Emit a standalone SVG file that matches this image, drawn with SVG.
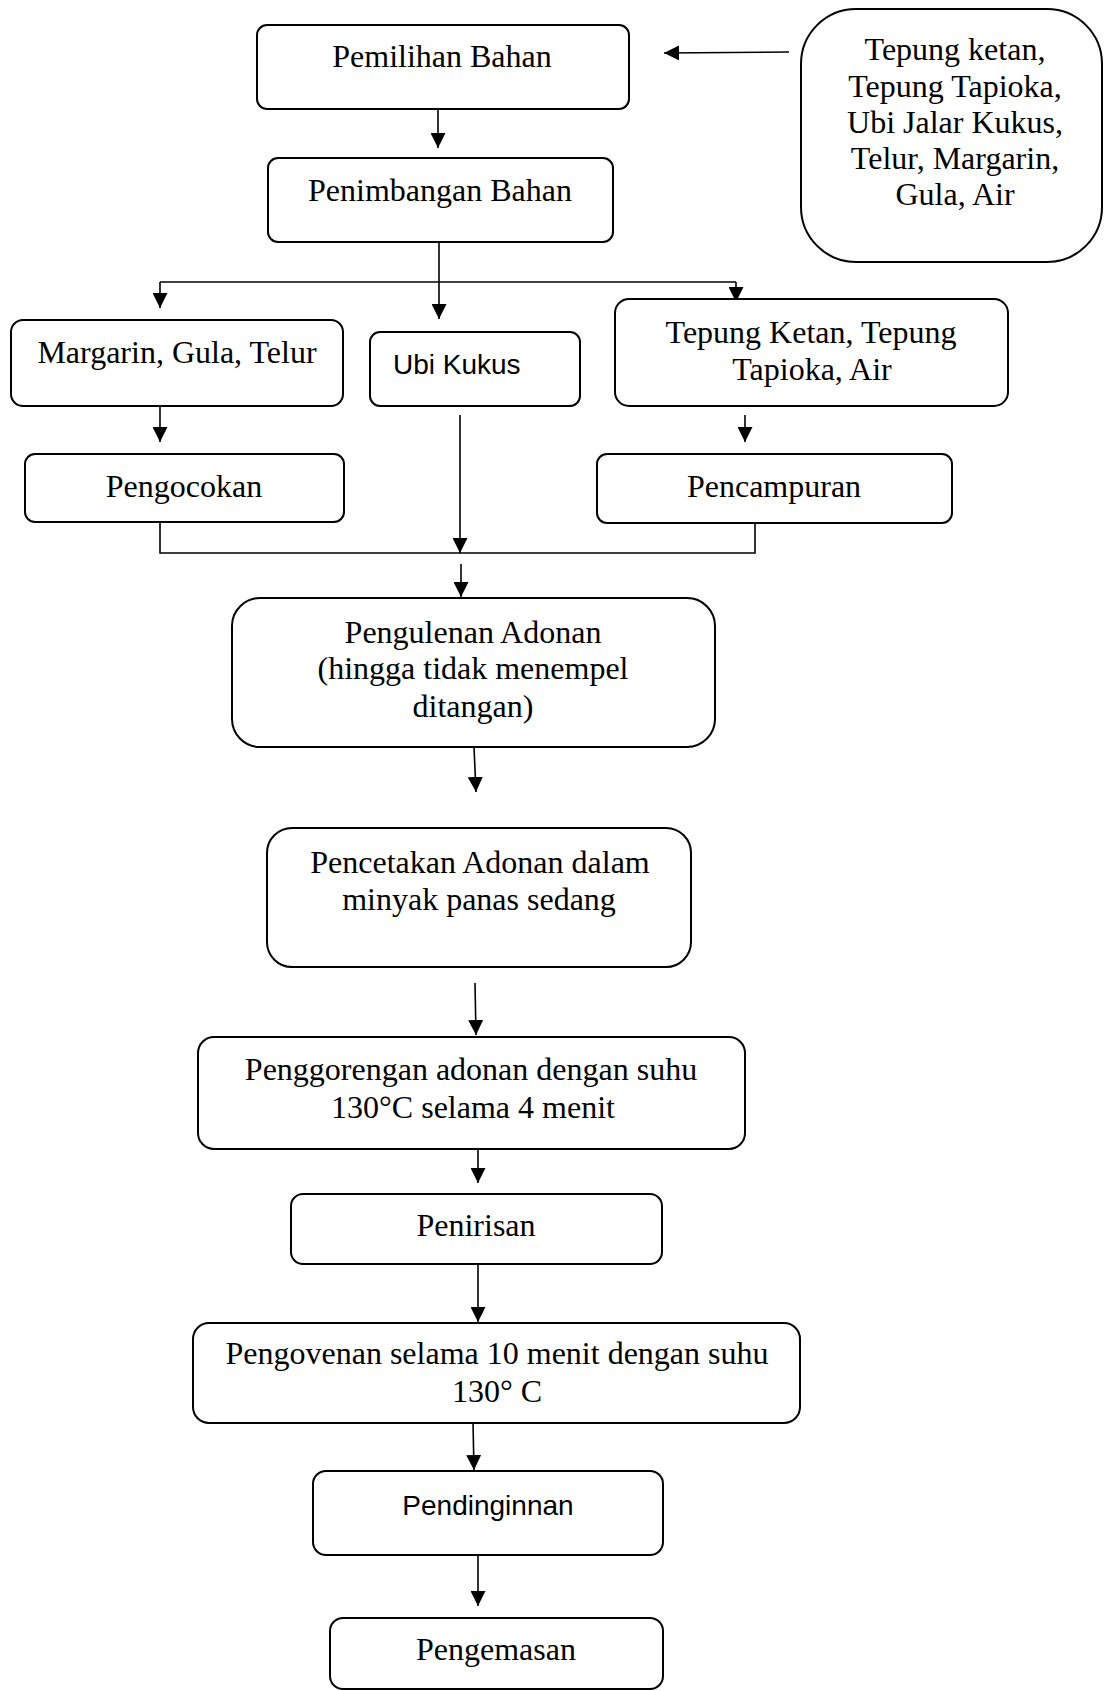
<svg xmlns="http://www.w3.org/2000/svg" width="1104" height="1691" viewBox="0 0 1104 1691">
<style>
.box{fill:#fff;stroke:#000;stroke-width:2}
.t{font-family:"Liberation Serif","Times New Roman",serif;font-size:32px;fill:#000;text-anchor:middle}
.s{font-family:"Liberation Sans",Arial,sans-serif;font-size:28px;fill:#000}
.c{fill:none;stroke:#000;stroke-width:1.6}
</style>
<defs>
<marker id="ah" markerUnits="userSpaceOnUse" markerWidth="15" markerHeight="15" refX="15" refY="7.5" orient="auto">
<path d="M0,0 L15,7.5 L0,15 z" fill="#000"/>
</marker>
</defs>
<rect width="1104" height="1691" fill="#fff"/>
<g id="connectors">
<line class="c" x1="789" y1="52" x2="664" y2="53" marker-end="url(#ah)"/>
<line class="c" x1="438" y1="109" x2="438" y2="148" marker-end="url(#ah)"/>
<line class="c" x1="439" y1="242" x2="439" y2="319" marker-end="url(#ah)"/>
<line class="c" x1="160" y1="282" x2="736" y2="282"/>
<line class="c" x1="160" y1="282" x2="160" y2="308" marker-end="url(#ah)"/>
<line class="c" x1="736" y1="282" x2="736" y2="302" marker-end="url(#ah)"/>
<line class="c" x1="160" y1="406" x2="160" y2="442" marker-end="url(#ah)"/>
<line class="c" x1="745" y1="415" x2="745" y2="442" marker-end="url(#ah)"/>
<line class="c" x1="460" y1="415" x2="460" y2="553" marker-end="url(#ah)"/>
<polyline class="c" points="160,522 160,553 755,553 755,523"/>
<line class="c" x1="461" y1="564" x2="461" y2="597" marker-end="url(#ah)"/>
<line class="c" x1="474" y1="747" x2="476" y2="792" marker-end="url(#ah)"/>
<line class="c" x1="475" y1="983" x2="476" y2="1035" marker-end="url(#ah)"/>
<line class="c" x1="478" y1="1149" x2="478" y2="1183" marker-end="url(#ah)"/>
<line class="c" x1="478" y1="1264" x2="478" y2="1322" marker-end="url(#ah)"/>
<line class="c" x1="473" y1="1423" x2="474" y2="1470" marker-end="url(#ah)"/>
<line class="c" x1="478" y1="1555" x2="478" y2="1606" marker-end="url(#ah)"/>
</g>
<g id="pemilihan">
<rect class="box" x="257" y="25" width="372" height="84" rx="10"/>
<text class="t" x="442" y="67">Pemilihan Bahan</text>
</g>
<g id="bahan">
<rect class="box" x="801" y="9" width="301" height="253" rx="55"/>
<text class="t" x="955" y="60">Tepung ketan,</text>
<text class="t" x="955" y="97">Tepung Tapioka,</text>
<text class="t" x="955" y="133">Ubi Jalar Kukus,</text>
<text class="t" x="955" y="169">Telur, Margarin,</text>
<text class="t" x="955" y="205">Gula, Air</text>
</g>
<g id="penimbangan">
<rect class="box" x="268" y="158" width="345" height="84" rx="10"/>
<text class="t" x="440" y="201">Penimbangan Bahan</text>
</g>
<g id="margarin">
<rect class="box" x="11" y="320" width="332" height="86" rx="12"/>
<text class="t" x="177" y="363">Margarin, Gula, Telur</text>
</g>
<g id="ubi">
<rect class="box" x="370" y="332" width="210" height="74" rx="10"/>
<text class="s" x="393" y="374">Ubi Kukus</text>
</g>
<g id="tepung">
<rect class="box" x="615" y="299" width="393" height="107" rx="14"/>
<text class="t" x="811" y="343">Tepung Ketan, Tepung</text>
<text class="t" x="812" y="380">Tapioka, Air</text>
</g>
<g id="pengocokan">
<rect class="box" x="25" y="454" width="319" height="68" rx="10"/>
<text class="t" x="184" y="497">Pengocokan</text>
</g>
<g id="pencampuran">
<rect class="box" x="597" y="454" width="355" height="69" rx="10"/>
<text class="t" x="774" y="497">Pencampuran</text>
</g>
<g id="pengulenan">
<rect class="box" x="232" y="598" width="483" height="149" rx="28"/>
<text class="t" x="473" y="643">Pengulenan Adonan</text>
<text class="t" x="473" y="679">(hingga tidak menempel</text>
<text class="t" x="473" y="717">ditangan)</text>
</g>
<g id="pencetakan">
<rect class="box" x="267" y="828" width="424" height="139" rx="25"/>
<text class="t" x="480" y="873">Pencetakan Adonan dalam</text>
<text class="t" x="479" y="910">minyak panas sedang</text>
</g>
<g id="penggorengan">
<rect class="box" x="198" y="1037" width="547" height="112" rx="16"/>
<text class="t" x="471" y="1080">Penggorengan adonan dengan suhu</text>
<text class="t" x="473" y="1118">130°C selama 4 menit</text>
</g>
<g id="penirisan">
<rect class="box" x="291" y="1194" width="371" height="70" rx="12"/>
<text class="t" x="476" y="1236">Penirisan</text>
</g>
<g id="pengovenan">
<rect class="box" x="193" y="1323" width="607" height="100" rx="16"/>
<text class="t" x="497" y="1364">Pengovenan selama 10 menit dengan suhu</text>
<text class="t" x="497" y="1402">130° C</text>
</g>
<g id="pendinginan">
<rect class="box" x="313" y="1471" width="350" height="84" rx="13"/>
<text class="s" x="488" y="1515" text-anchor="middle">Pendinginnan</text>
</g>
<g id="pengemasan">
<rect class="box" x="330" y="1618" width="333" height="71" rx="13"/>
<text class="t" x="496" y="1660">Pengemasan</text>
</g>
</svg>
